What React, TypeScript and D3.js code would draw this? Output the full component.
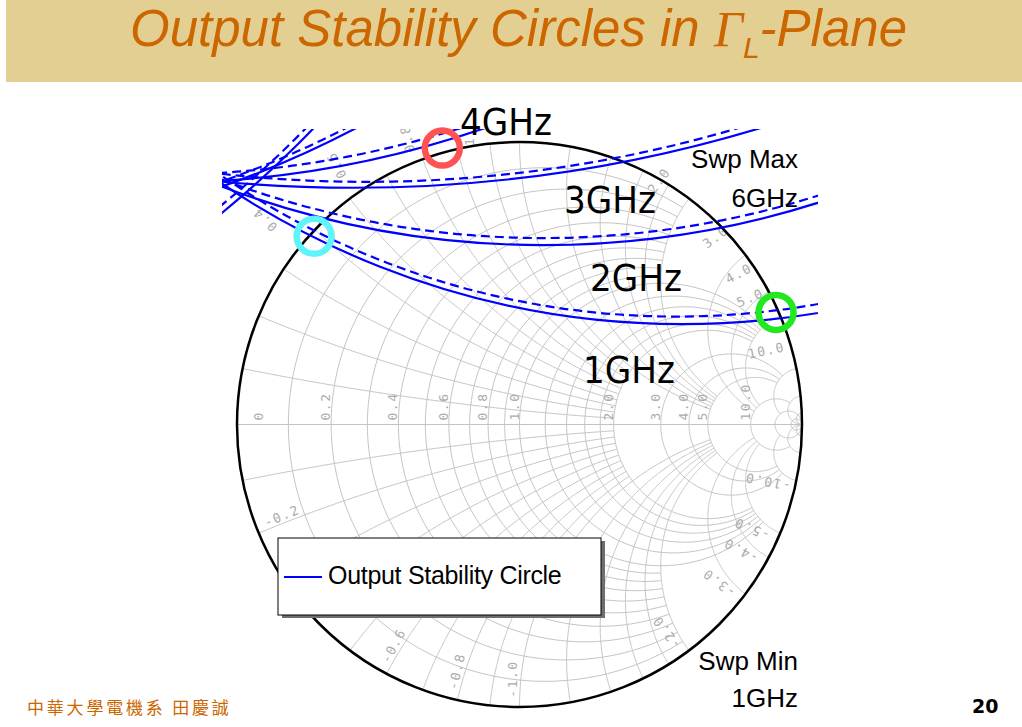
import * as d3 from 'd3'

// Output stability circles (Gamma_L plane), one trace per frequency
const freqGHz = [1, 2, 3, 4, 5, 6]
const solidCenterRe = [0.575, 0.084, -0.587, -1.29, -2.228, -3.287]
const solidCenterIm = [3.264, 3.859, 5.84, 4.457, 4.182, 3.496]
const solidRadius = [2.909, 3.224, 5.002, 3.602, 3.54, 3.54]
const dashCenterRe = [0.555, 0.084, -0.542, -1.29, -2.228, -3.287]
const dashCenterIm = [3.23, 3.884, 5.506, 4.485, 4.2, 3.524]
const dashRadius = [2.848, 3.224, 4.647, 3.602, 3.54, 3.54]

// highlighted crossings with |Gamma| = 1
const markerMag = [1.016, 0.986, 0.991]
const markerAngleDeg = [105.6, 137.5, 23.6]

// smith chart grid
const resistanceValues = [0.1, 0.2, 0.3, 0.4, 0.5, 0.6, 0.7, 0.8, 0.9, 1.0, 1.2, 1.4, 1.6, 1.8, 2, 3, 4, 5, 10, 20, 50]
const reactanceValues = [0.1, 0.2, 0.3, 0.4, 0.5, 0.6, 0.7, 0.8, 0.9, 1.0, 1.2, 1.4, 1.6, 1.8, 2, 3, 4, 5, 10, 20, 50]
const resistanceTicks = [0, 0.2, 0.4, 0.6, 0.8, 1.0, 2.0, 3.0, 4.0, 5.0, 10.0]
const reactanceTicks = [0.2, 0.4, 0.6, 0.8, 1.0, 2.0, 3.0, 4.0, 5.0, 10.0]

const W = 1022
const H = 727
const cx = 519.5
const cy = 424.5
const R = 282.5

const xs = d3.scaleLinear().domain([-1, 1]).range([cx - R, cx + R])
const ys = d3.scaleLinear().domain([-1, 1]).range([cy + R, cy - R])

const markerColors = ['#ff5252', '#5ef4fa', '#22e822']
const gridColor = '#c4c4c4'
const labelColor = '#ababab'

// z = r + jx  ->  Gamma
function gamma(r: number, x: number): [number, number] {
  const d = (r + 1) * (r + 1) + x * x
  return [(r * r - 1 + x * x) / d, (2 * x) / d]
}

// how far each grid line runs
function limitFor(v: number) {
  if (v < 1) return 2
  if (v <= 2) return 5
  if (v <= 5) return 10
  if (v <= 10) return 20
  return Infinity
}

const line = d3
  .line<[number, number]>()
  .x(d => xs(d[0]))
  .y(d => ys(d[1]))

function arcPoints(ccx: number, ccy: number, rad: number, a0: number, a1: number) {
  const n = 240
  return d3.range(n + 1).map(i => {
    const a = a0 + ((a1 - a0) * i) / n
    return [ccx + rad * Math.cos(a), ccy + rad * Math.sin(a)] as [number, number]
  })
}

function resistancePath(r: number) {
  const c = r / (1 + r)
  const rad = 1 / (1 + r)
  const lim = limitFor(r)
  const a = lim === Infinity ? 0 : Math.atan2(gamma(r, lim)[1], gamma(r, lim)[0] - c)
  return line(arcPoints(c, 0, rad, a, 2 * Math.PI - a)) || ''
}

function reactancePath(x: number) {
  const lim = limitFor(Math.abs(x))
  const g0 = gamma(0, x)
  const g1 = lim === Infinity ? [1, 0] : gamma(lim, x)
  const a0 = Math.atan2(g0[1] - 1 / x, g0[0] - 1)
  const a1 = Math.atan2(g1[1] - 1 / x, g1[0] - 1)
  let diff = a1 - a0
  while (diff > Math.PI) diff -= 2 * Math.PI
  while (diff < -Math.PI) diff += 2 * Math.PI
  return line(arcPoints(1, 1 / x, 1 / Math.abs(x), a0, a0 + diff)) || ''
}

function reactanceLabel(x: number) {
  const g = gamma(0, x)
  const phi = (Math.atan2(g[1], g[0]) * 180) / Math.PI
  const ex = xs(g[0])
  const ey = ys(g[1])
  if (x > 0) {
    const off = x <= 1 ? [-50, -10] : [-30, -18]
    return { x: ex + off[0], y: ey + off[1], rot: -phi }
  }
  const rot = 180 - phi
  const t = (rot * Math.PI) / 180
  const lx = [Math.cos(t), Math.sin(t)]
  const ly = [-Math.sin(t), Math.cos(t)]
  return { x: ex + 28 * lx[0] - 7 * ly[0], y: ey + 28 * lx[1] - 7 * ly[1], rot }
}

const rPx = (v: number) => xs(v) - xs(0)

export default function App() {
  const bigFont = '"DejaVu Sans Condensed", "DejaVu Sans", sans-serif'
  const sans = '"Liberation Sans", Arial, sans-serif'

  return (
    <svg width={W} height={H} style={{ position: 'fixed', left: 0, top: 0, background: '#fff' }}>
      <defs>
        <clipPath id="plotClip">
          <rect x={222} y={129} width={596} height={583} />
        </clipPath>
      </defs>
      <rect x={0} y={0} width={W} height={H} fill="#fff" />

      {/* title band */}
      <rect x={6} y={0} width={W - 6} height={82} fill="#e3cf91" />
      <text x={130} y={46} fontFamily={sans} fontStyle="italic" fontSize={51} fill="#cc6600">
        Output Stability Circles in{' '}
        <tspan fontFamily='"Liberation Serif", serif'>Γ</tspan>
        <tspan fontSize={30} dy={12}>L</tspan>
        <tspan dy={-12}>-Plane</tspan>
      </text>

      {/* smith chart grid */}
      <g fill="none" stroke={gridColor} strokeWidth={1}>
        {resistanceValues.map(r => (
          <path key={'r' + r} d={resistancePath(r)} />
        ))}
        {reactanceValues.flatMap(x => [
          <path key={'xp' + x} d={reactancePath(x)} />,
          <path key={'xn' + x} d={reactancePath(-x)} />,
        ])}
        <line x1={xs(-1)} x2={xs(1)} y1={ys(0)} y2={ys(0)} />
      </g>

      <g fontFamily='"DejaVu Sans Mono", monospace' fontSize={13} fill={labelColor} letterSpacing={1.5}>
        {resistanceTicks.map(r => {
          const px = r === 0 ? xs(-1) + 26 : xs((r - 1) / (r + 1)) - 1
          return (
            <text key={'rl' + r} transform={`translate(${px},${ys(0) - 4}) rotate(-90)`}>
              {r === 0 ? '0' : r.toFixed(1)}
            </text>
          )
        })}
        <g clipPath="url(#plotClip)">
          {reactanceTicks.flatMap(v => [v, -v]).map(x => {
            const p = reactanceLabel(x)
            return (
              <text
                key={'xl' + x}
                transform={`translate(${p.x},${p.y}) rotate(${p.rot})`}
                textAnchor="middle"
                dominantBaseline="central"
              >
                {(x < 0 ? '-' : '') + Math.abs(x).toFixed(1)}
              </text>
            )
          })}
        </g>
      </g>

      {/* unit circle */}
      <circle cx={xs(0)} cy={ys(0)} r={rPx(1)} fill="none" stroke="#000" strokeWidth={2.5} />

      {/* stability circles */}
      <g clipPath="url(#plotClip)" fill="none" stroke="#0000ff" strokeWidth={2.2}>
        {freqGHz.map((f, i) => (
          <g key={'f' + f}>
            <circle cx={xs(dashCenterRe[i])} cy={ys(dashCenterIm[i])} r={rPx(dashRadius[i])} strokeDasharray="9 5" />
            <circle cx={xs(solidCenterRe[i])} cy={ys(solidCenterIm[i])} r={rPx(solidRadius[i])} />
          </g>
        ))}
      </g>

      {/* frequency annotations */}
      <g fontFamily={bigFont} fontStretch="condensed" fontSize={38} fill="#000">
        <text x={460} y={135}>4GHz</text>
        <text x={564} y={213}>3GHz</text>
        <text x={590} y={291}>2GHz</text>
        <text x={583} y={383}>1GHz</text>
      </g>

      {/* highlighted crossings */}
      {markerMag.map((m, i) => {
        const a = (markerAngleDeg[i] * Math.PI) / 180
        return (
          <circle
            key={'m' + i}
            cx={xs(m * Math.cos(a))}
            cy={ys(m * Math.sin(a))}
            r={17.5}
            fill="none"
            stroke={markerColors[i]}
            strokeWidth={6.5}
          />
        )
      })}

      {/* sweep info */}
      <g fontFamily={sans} fontSize={26} fill="#000" textAnchor="end">
        <text x={798} y={168}>Swp Max</text>
        <text x={798} y={207}>6GHz</text>
        <text x={798} y={670}>Swp Min</text>
        <text x={798} y={707}>1GHz</text>
      </g>

      {/* legend */}
      <rect x={282} y={541} width={323} height={77} fill="#6e6e6e" />
      <rect x={278} y={538} width={323} height={77} fill="#fff" stroke="#000" strokeWidth={1} />
      <line x1={284} x2={322} y1={577} y2={577} stroke="#0000ff" strokeWidth={2.2} />
      <text x={328} y={583.5} fontFamily={sans} fontSize={25} letterSpacing={-0.3} fill="#000">
        Output Stability Circle
      </text>

      {/* footer */}
      <text x={27} y={714} fontFamily='"Noto Sans CJK TC", sans-serif' fontSize={17} letterSpacing={2.8} fill="#cc6600">
        中華大學電機系 田慶誠
      </text>
      <text x={972} y={713} fontFamily='"DejaVu Sans", sans-serif' fontWeight="bold" fontSize={19} fill="#000">
        20
      </text>
    </svg>
  )
}
